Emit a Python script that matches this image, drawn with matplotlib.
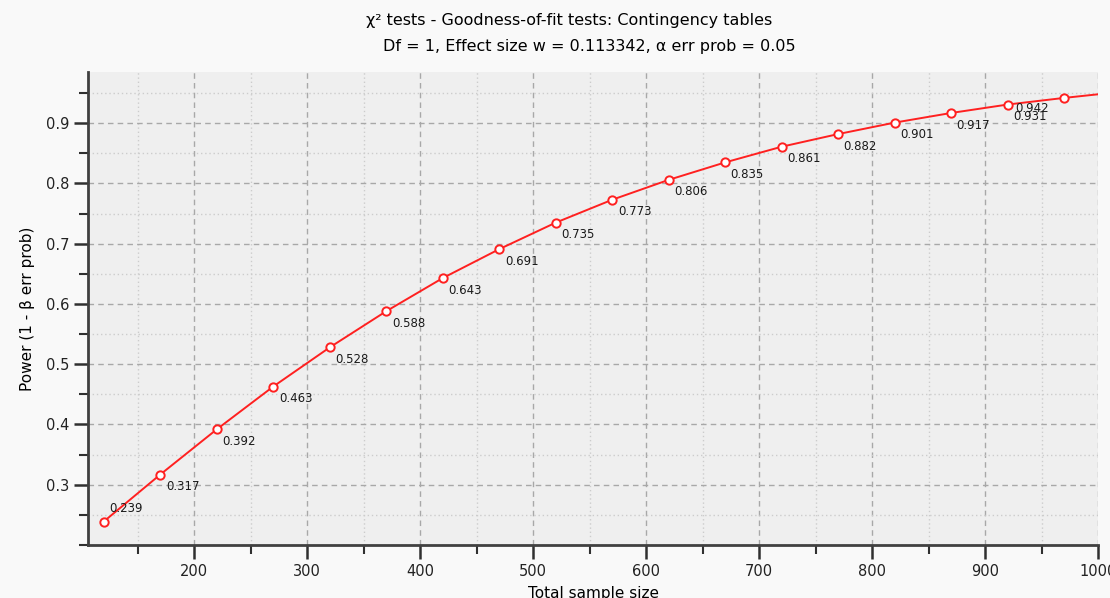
import matplotlib.pyplot as plt
from matplotlib.ticker import MultipleLocator

# sample sizes and power values
sample_size = [120, 170, 220, 270, 320, 370, 420, 470, 520, 570,
               620, 670, 720, 770, 820, 870, 920, 970]
power = [0.239, 0.317, 0.392, 0.463, 0.528, 0.588, 0.643, 0.691, 0.735,
         0.773, 0.806, 0.835, 0.861, 0.882, 0.901, 0.917, 0.931, 0.942]
labels = ["0.239", "0.317", "0.392", "0.463", "0.528", "0.588", "0.643",
          "0.691", "0.735", "0.773", "0.806", "0.835", "0.861", "0.882",
          "0.901", "0.917", "0.931", "0.942"]
# the curve continues to the right edge
curve_x = sample_size + [1000]
curve_y = power + [0.948]

fig = plt.figure(figsize=(11.1, 5.98), dpi=100)
fig.patch.set_facecolor('#f9f9f9')
ax = fig.add_axes([88 / 1110, 53 / 598, 1010 / 1110, 473 / 598])
ax.set_facecolor('#efefef')

ax.plot(curve_x, curve_y, color='#ff2020', linewidth=1.4, zorder=3)
ax.plot(sample_size, power, linestyle='none', marker='o', markersize=6,
        markerfacecolor='white', markeredgecolor='#ff2020',
        markeredgewidth=1.4, zorder=4)

for i, (x, y, lab) in enumerate(zip(sample_size, power, labels)):
    # first label sits above its point, last one to the left
    if i == 0:
        off, va = (4, 5), 'bottom'
    elif i == len(sample_size) - 1:
        off, va = (-35, -3), 'top'
    else:
        off, va = (4, -4), 'top'
    ax.annotate(lab, (x, y), xytext=off, textcoords='offset points',
                fontsize=8.5, color='#1a1a1a', va=va, zorder=5)

ax.set_xlim(106, 1000)
ax.set_ylim(0.2, 0.985)
ax.xaxis.set_minor_locator(MultipleLocator(50))
ax.yaxis.set_minor_locator(MultipleLocator(0.05))
ax.set_xticks([200, 300, 400, 500, 600, 700, 800, 900, 1000])
ax.set_yticks([0.3, 0.4, 0.5, 0.6, 0.7, 0.8, 0.9])

ax.grid(which='major', color='#a8a8a8', linestyle=(0, (4, 3)), linewidth=1.0)
ax.grid(which='minor', color='#cccccc', linestyle=(0, (1, 2)), linewidth=1.0)
ax.set_axisbelow(True)

for side in ['top', 'right']:
    ax.spines[side].set_visible(False)
for side in ['left', 'bottom']:
    ax.spines[side].set_color('#404040')
    ax.spines[side].set_linewidth(2)

ax.tick_params(which='major', length=10, width=1.8, color='#303030',
               labelsize=10.5, labelcolor='#222222', direction='out')
ax.tick_params(which='minor', length=6.5, width=1.5, color='#303030',
               direction='out')

ax.set_xlabel('Total sample size', fontsize=11, labelpad=5)
ax.set_ylabel('Power (1 - β err prob)', fontsize=11, labelpad=8)

fig.text(569 / 1110, 1 - 20 / 598, 'χ² tests - Goodness-of-fit tests: Contingency tables',
         ha='center', va='center', fontsize=11.5)
fig.text(589 / 1110, 1 - 46 / 598, 'Df = 1, Effect size w = 0.113342, α err prob = 0.05',
         ha='center', va='center', fontsize=11.5)

fig.savefig('out.png', dpi=100, facecolor=fig.get_facecolor())
